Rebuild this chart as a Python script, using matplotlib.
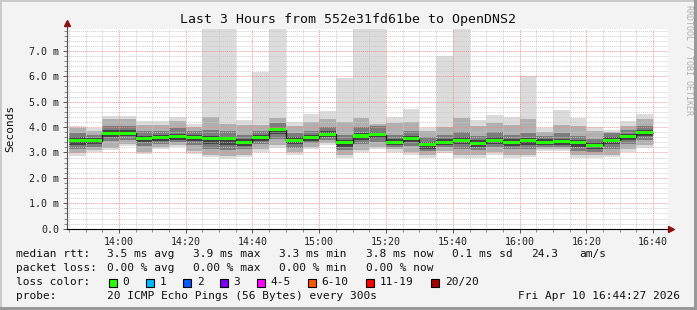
import matplotlib
matplotlib.use("Agg")
import matplotlib.pyplot as plt
from matplotlib.ticker import MultipleLocator, FuncFormatter
from matplotlib.patches import Rectangle
from matplotlib.lines import Line2D
import numpy as np

W, H = 697, 310

# time axis in minutes after midnight
first_bar = 13 * 60 + 45          # first 5-minute step 13:45
step = 5
view_start = 13 * 60 + 44 + 27 / 60.0
view_end = view_start + 180

# median rtt per step (ms)
med = [3.46, 3.46, 3.76, 3.76, 3.54, 3.58, 3.62, 3.58, 3.54, 3.54, 3.41, 3.58,
       3.89, 3.49, 3.58, 3.72, 3.38, 3.65, 3.70, 3.41, 3.54, 3.32, 3.41, 3.49,
       3.37, 3.49, 3.41, 3.46, 3.41, 3.44, 3.38, 3.28, 3.49, 3.62, 3.78]

# smoke: min / max of all pings
lo0 = [2.88, 3.00, 3.09, 3.25, 2.93, 3.13, 3.22, 2.96, 2.81, 2.73, 2.81, 3.03,
       3.19, 2.90, 3.13, 3.29, 2.80, 3.00, 3.12, 3.03, 2.90, 2.80, 2.97, 2.78,
       2.78, 2.90, 2.78, 2.82, 3.05, 3.05, 2.78, 2.78, 2.82, 3.03, 3.19]
hi0 = [4.05, 3.95, 4.43, 4.43, 4.24, 4.24, 4.40, 4.14, 7.90, 7.90, 4.27, 6.17,
       7.90, 4.21, 4.51, 4.63, 5.94, 7.90, 7.90, 4.40, 4.73, 3.98, 6.80, 7.90,
       4.27, 4.47, 4.40, 6.00, 3.95, 4.67, 4.37, 3.99, 3.88, 4.24, 4.51]
# second band
lo1 = [2.98, 3.08, 3.17, 3.32, 3.02, 3.20, 3.30, 3.05, 2.92, 2.85, 2.92, 3.12,
       3.28, 3.00, 3.22, 3.36, 2.92, 3.10, 3.22, 3.12, 3.00, 2.90, 3.07, 2.90,
       2.90, 3.00, 2.90, 2.92, 3.13, 3.13, 2.90, 2.90, 2.92, 3.12, 3.28]
hi1 = [3.95, 3.85, 4.30, 4.30, 4.10, 4.10, 4.25, 4.00, 4.40, 4.14, 4.10, 4.10,
       4.35, 4.05, 4.20, 4.30, 4.20, 4.34, 4.14, 4.15, 4.20, 3.85, 4.00, 4.34,
       4.05, 4.15, 4.10, 4.30, 3.80, 4.10, 4.05, 3.85, 3.80, 4.05, 4.30]
# third band
lo2 = [3.15, 3.22, 3.45, 3.50, 3.25, 3.35, 3.40, 3.30, 3.15, 3.10, 3.12, 3.32,
       3.55, 3.18, 3.38, 3.50, 3.10, 3.35, 3.42, 3.20, 3.25, 3.05, 3.20, 3.15,
       3.10, 3.20, 3.12, 3.15, 3.22, 3.22, 3.05, 3.00, 3.15, 3.35, 3.50]
hi2 = [3.75, 3.70, 4.05, 4.05, 3.85, 3.85, 3.95, 3.85, 3.90, 3.85, 3.70, 3.85,
       4.15, 3.75, 3.85, 4.00, 3.70, 4.00, 4.05, 3.70, 3.85, 3.60, 3.70, 3.80,
       3.65, 3.80, 3.70, 3.75, 3.65, 3.75, 3.65, 3.55, 3.75, 3.90, 4.05]
# dark core
lo3 = [3.30, 3.32, 3.62, 3.64, 3.40, 3.46, 3.50, 3.44, 3.35, 3.30, 3.26, 3.46,
       3.74, 3.34, 3.46, 3.60, 3.22, 3.50, 3.56, 3.28, 3.40, 3.15, 3.28, 3.34,
       3.20, 3.34, 3.26, 3.30, 3.30, 3.30, 3.20, 3.12, 3.34, 3.48, 3.64]
hi3 = [3.60, 3.58, 3.88, 3.88, 3.66, 3.68, 3.74, 3.68, 3.66, 3.62, 3.52, 3.68,
       3.98, 3.60, 3.68, 3.84, 3.50, 3.78, 3.82, 3.52, 3.66, 3.42, 3.52, 3.60,
       3.48, 3.60, 3.52, 3.58, 3.52, 3.55, 3.50, 3.40, 3.60, 3.74, 3.90]

smoke = [(lo0, hi0, "#dcdcdc"), (lo1, hi1, "#b0b0b0"),
         (lo2, hi2, "#7c7c7c"), (lo3, hi3, "#444444")]

loss_labels = ["0", "1", "2", "3", "4-5", "6-10", "11-19", "20/20"]
loss_colors = ["#26ff00", "#00b8ff", "#0059ff", "#7e00ff", "#ff00ff",
               "#ff5500", "#ff0000", "#a10000"]


def fx(x):
    return x / W


def fy(y):
    return 1 - y / H


mono = "DejaVu Sans Mono"
fig = plt.figure(figsize=(W / 100, H / 100), dpi=100, facecolor="#f3f3f3")

# frame shading
fig.add_artist(Rectangle((0, fy(2)), 1, 2 / H, transform=fig.transFigure, color="#cbcbcb", lw=0))
fig.add_artist(Rectangle((0, 0), 2 / W, 1, transform=fig.transFigure, color="#cbcbcb", lw=0))
fig.add_artist(Rectangle((0, 0), 1, 3 / H, transform=fig.transFigure, color="#999999", lw=0))
fig.add_artist(Rectangle((1 - 3 / W, 0), 3 / W, 1, transform=fig.transFigure, color="#999999", lw=0))

x0, x1, ytop, ybot = 67, 668, 29.3, 228.7
ax = fig.add_axes([fx(x0), fy(ybot), (x1 - x0) / W, (ybot - ytop) / H])
ax.set_facecolor("white")

edges = first_bar + step * np.arange(len(med) + 1)
for lo, hi, c in smoke:
    ax.stairs(hi, edges, baseline=lo, fill=True, color=c, lw=0, zorder=1)

band = 0.06
medv = np.array(med)
ax.stairs(medv, edges, baseline=None, color="#202020", lw=1.0, zorder=3)
ax.stairs(medv + band, edges, baseline=medv - band, fill=True,
          color=loss_colors[0], lw=0, zorder=4)

ax.set_xlim(view_start, view_end)
ax.set_ylim(0, 7.85)

ax.xaxis.set_major_locator(MultipleLocator(20))
ax.xaxis.set_minor_locator(MultipleLocator(5))
ax.yaxis.set_major_locator(MultipleLocator(1))
ax.yaxis.set_minor_locator(MultipleLocator(0.2))
ax.xaxis.set_major_formatter(FuncFormatter(lambda v, p: "%02d:%02d" % (int(v) // 60, int(v) % 60)))
ax.yaxis.set_major_formatter(FuncFormatter(lambda v, p: "0.0" if abs(v) < 1e-9 else "%.1f m" % v))

ax.set_axisbelow(False)
ax.grid(which="minor", color="#c8c8c8", lw=0.7, ls=(0, (1, 1)), alpha=0.9)
ax.grid(which="major", color="#f08a8a", lw=0.7, ls=(0, (1, 1)), alpha=0.9)

ax.tick_params(which="major", length=3, width=0.7, color="#555555",
               labelsize=7.2, pad=2.5, labelfontfamily=mono, labelcolor="#222222")
ax.tick_params(which="minor", length=2, width=0.7, color="#888888")
ax.tick_params(axis="x", which="major", pad=3)

for s in ax.spines.values():
    s.set_visible(False)

# axis lines with arrows
fig.add_artist(Line2D([fx(x0), fx(x0)], [fy(ybot), fy(24)], transform=fig.transFigure,
                      color="#505050", lw=0.8))
fig.add_artist(Line2D([fx(x0), fx(670)], [fy(ybot), fy(ybot)], transform=fig.transFigure,
                      color="#000000", lw=0.8))
fig.add_artist(Line2D([fx(x0)], [fy(23)], transform=fig.transFigure, marker="^",
                      ms=4.5, color="#8b1010", lw=0))
fig.add_artist(Line2D([fx(671)], [fy(ybot)], transform=fig.transFigure, marker=">",
                      ms=4.5, color="#8b1010", lw=0))

fig.text(fx(348), fy(19), "Last 3 Hours from 552e31fd61be to OpenDNS2",
         ha="center", va="center", fontsize=9.5, family=mono, color="#111111")
fig.text(fx(10), fy(128), "Seconds", rotation=90, ha="center", va="center",
         fontsize=8, family=mono, color="#111111")
fig.text(fx(689), fy(5), "RRDTOOL / TOBI OETIKER", rotation=-90, ha="center", va="top",
         fontsize=6.0, family=mono, color="#b0b0b0")

lg = dict(fontsize=8, family=mono, color="#111111", va="center", ha="left")
row1 = [("median rtt:", 16), ("3.5 ms avg", 107), ("3.9 ms max", 193), ("3.3 ms min", 279),
        ("3.8 ms now", 366), ("0.1 ms sd", 452), ("24.3", 531), ("am/s", 579)]
row2 = [("packet loss:", 16), ("0.00 % avg", 107), ("0.00 % max", 193),
        ("0.00 % min", 279), ("0.00 % now", 366)]
for txt, x in row1:
    fig.text(fx(x), fy(254.3), txt, **lg)
for txt, x in row2:
    fig.text(fx(x), fy(268.3), txt, **lg)

fig.text(fx(16), fy(282.3), "loss color:", **lg)
box_x = [108.7, 145.7, 182.7, 219.7, 256.7, 307.7, 365.7, 430.7]
for lab, col, bx in zip(loss_labels, loss_colors, box_x):
    fig.add_artist(Rectangle((fx(bx), fy(286.5)), 8 / W, 8 / H, transform=fig.transFigure,
                             facecolor=col, edgecolor="#000000", lw=0.8))
    fig.text(fx(bx + 14), fy(282.3), lab, **lg)

fig.text(fx(16), fy(296), "probe:", **lg)
fig.text(fx(107), fy(296), "20 ICMP Echo Pings (56 Bytes) every 300s", **lg)
fig.text(fx(680), fy(296), "Fri Apr 10 16:44:27 2026", **dict(lg, ha="right"))

fig.savefig("out.png", dpi=100, facecolor=fig.get_facecolor())
